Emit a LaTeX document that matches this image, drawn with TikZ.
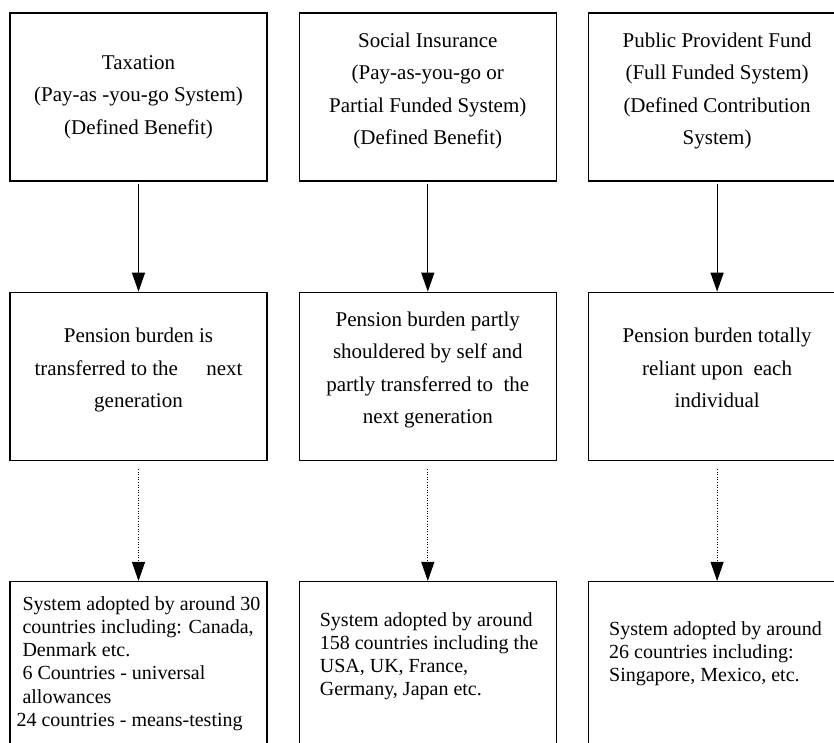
\documentclass[tikz,border=0pt]{standalone}
\usepackage{fontspec}
\setmainfont{Liberation Serif}
\usetikzlibrary{arrows.meta,positioning}

\begin{document}
\begin{tikzpicture}[
    x=1pt, y=-1pt,
    node distance=110pt and 31pt,
    stage/.style={rectangle, draw, line width=1.3pt, minimum width=257pt, minimum height=168pt, inner sep=0pt, align=center, font=\fontsize{21}{32.5}\selectfont},
    lifted/.style={text depth=17pt},
    result/.style={rectangle, draw, line width=1.3pt, minimum width=257pt, minimum height=190pt},
    note/.style={inner sep=0pt, align=left, font=\fontsize{20}{23.3}\selectfont},
    flow/.style={-{Triangle[length=19pt,width=13pt]}, line width=1.2pt, shorten <=2pt},
    hint/.style={-{Triangle[length=19pt,width=13pt]}, line width=0.9pt, dash pattern=on 1pt off 1.6pt, shorten <=8pt},
]
\useasboundingbox (0,0) rectangle (834,742);
\clip (0,0) rectangle (834,742);

% Nodes
\node[stage] (tax) at (138.5,97) {Taxation\\(Pay-as -you-go System)\\(Defined Benefit)};
\node[stage, lifted, right=of tax] (ins) {Social Insurance\\(Pay-as-you-go or\\Partial Funded System)\\(Defined Benefit)};
\node[stage, lifted, right=of ins] (fund) {Public Provident Fund\\(Full Funded System)\\(Defined Contribution\\System)};

\node[stage, lifted, below=of tax] (taxb) {Pension burden is\\transferred to the\hspace{23pt} next\\generation};
\node[stage, lifted, below=of ins] (insb) {Pension burden partly\\shouldered by self and\\partly transferred to\ \ the\\next generation};
\node[stage, lifted, below=of fund] (fundb) {Pension burden totally\\reliant upon\ \ each\\individual};

\node[result, below=120pt of taxb.south, anchor=north] (taxr) {};
\node[result, below=120pt of insb.south, anchor=north] (insr) {};
\node[result, below=120pt of fundb.south, anchor=north] (fundr) {};

\node[note, below right=15pt and 13pt of taxr.north west] (taxn) {System adopted by around 30\\countries including: Canada,\\Denmark etc.\\6 Countries - universal\\allowances\\\hspace*{-6pt}24 countries - means-testing};
\node[note, below right=31pt and 21pt of insr.north west] (insn) {System adopted by around\\158 countries including the\\USA, UK, France,\\Germany, Japan etc.};
\node[note, below right=40pt and 21pt of fundr.north west] (fundn) {System adopted by around\\26 countries including:\\Singapore, Mexico, etc.};

% Relations
\draw[flow] (tax) -- (taxb);
\draw[flow] (ins) -- (insb);
\draw[flow] (fund) -- (fundb);
\draw[hint] (taxb) -- (taxr);
\draw[hint] (insb) -- (insr);
\draw[hint] (fundb) -- (fundr);

\end{tikzpicture}
\end{document}
